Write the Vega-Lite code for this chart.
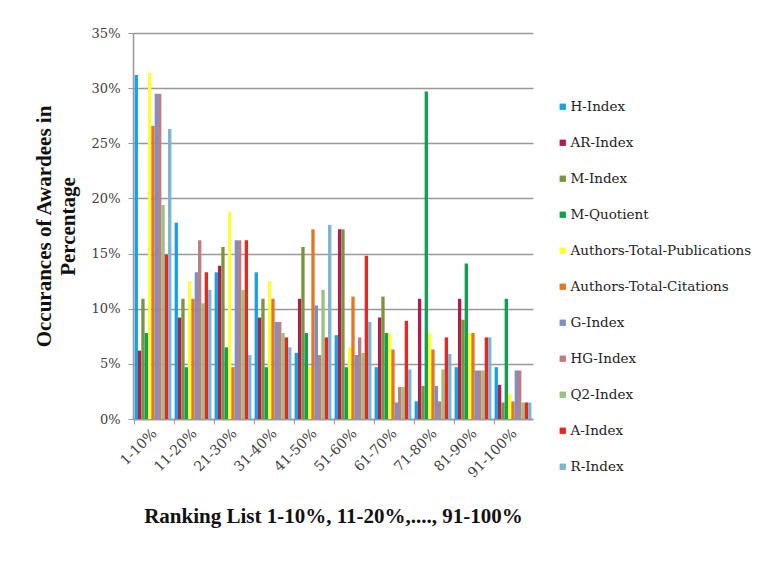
{
  "$schema": "https://vega.github.io/schema/vega-lite/v6.json",
  "width": 400,
  "height": 386,
  "autosize": {"type": "none"},
  "padding": {"left": 133, "top": 33, "right": 228, "bottom": 147},
  "background": "white",
  "datasets": {
    "d": [
      {"range": "1-10%", "index": "H-Index", "value": 31.2},
      {"range": "1-10%", "index": "AR-Index", "value": 6.2},
      {"range": "1-10%", "index": "M-Index", "value": 10.9},
      {"range": "1-10%", "index": "M-Quotient", "value": 7.8},
      {"range": "1-10%", "index": "Authors-Total-Publications", "value": 31.4},
      {"range": "1-10%", "index": "Authors-Total-Citations", "value": 26.6},
      {"range": "1-10%", "index": "G-Index", "value": 29.5},
      {"range": "1-10%", "index": "HG-Index", "value": 29.5},
      {"range": "1-10%", "index": "Q2-Index", "value": 19.4},
      {"range": "1-10%", "index": "A-Index", "value": 14.9},
      {"range": "1-10%", "index": "R-Index", "value": 26.3},

      {"range": "11-20%", "index": "H-Index", "value": 17.8},
      {"range": "11-20%", "index": "AR-Index", "value": 9.2},
      {"range": "11-20%", "index": "M-Index", "value": 10.9},
      {"range": "11-20%", "index": "M-Quotient", "value": 4.7},
      {"range": "11-20%", "index": "Authors-Total-Publications", "value": 12.5},
      {"range": "11-20%", "index": "Authors-Total-Citations", "value": 10.9},
      {"range": "11-20%", "index": "G-Index", "value": 13.3},
      {"range": "11-20%", "index": "HG-Index", "value": 16.2},
      {"range": "11-20%", "index": "Q2-Index", "value": 10.5},
      {"range": "11-20%", "index": "A-Index", "value": 13.3},
      {"range": "11-20%", "index": "R-Index", "value": 11.7},

      {"range": "21-30%", "index": "H-Index", "value": 13.3},
      {"range": "21-30%", "index": "AR-Index", "value": 13.9},
      {"range": "21-30%", "index": "M-Index", "value": 15.6},
      {"range": "21-30%", "index": "M-Quotient", "value": 6.5},
      {"range": "21-30%", "index": "Authors-Total-Publications", "value": 18.8},
      {"range": "21-30%", "index": "Authors-Total-Citations", "value": 4.7},
      {"range": "21-30%", "index": "G-Index", "value": 16.2},
      {"range": "21-30%", "index": "HG-Index", "value": 16.2},
      {"range": "21-30%", "index": "Q2-Index", "value": 11.7},
      {"range": "21-30%", "index": "A-Index", "value": 16.2},
      {"range": "21-30%", "index": "R-Index", "value": 5.8},

      {"range": "31-40%", "index": "H-Index", "value": 13.3},
      {"range": "31-40%", "index": "AR-Index", "value": 9.2},
      {"range": "31-40%", "index": "M-Index", "value": 10.9},
      {"range": "31-40%", "index": "M-Quotient", "value": 4.7},
      {"range": "31-40%", "index": "Authors-Total-Publications", "value": 12.5},
      {"range": "31-40%", "index": "Authors-Total-Citations", "value": 10.9},
      {"range": "31-40%", "index": "G-Index", "value": 8.8},
      {"range": "31-40%", "index": "HG-Index", "value": 8.8},
      {"range": "31-40%", "index": "Q2-Index", "value": 7.8},
      {"range": "31-40%", "index": "A-Index", "value": 7.4},
      {"range": "31-40%", "index": "R-Index", "value": 6.5},

      {"range": "41-50%", "index": "H-Index", "value": 6.0},
      {"range": "41-50%", "index": "AR-Index", "value": 10.9},
      {"range": "41-50%", "index": "M-Index", "value": 15.6},
      {"range": "41-50%", "index": "M-Quotient", "value": 7.8},
      {"range": "41-50%", "index": "Authors-Total-Publications", "value": 4.7},
      {"range": "41-50%", "index": "Authors-Total-Citations", "value": 17.2},
      {"range": "41-50%", "index": "G-Index", "value": 10.3},
      {"range": "41-50%", "index": "HG-Index", "value": 5.8},
      {"range": "41-50%", "index": "Q2-Index", "value": 11.7},
      {"range": "41-50%", "index": "A-Index", "value": 7.4},
      {"range": "41-50%", "index": "R-Index", "value": 17.6},

      {"range": "51-60%", "index": "H-Index", "value": 7.6},
      {"range": "51-60%", "index": "AR-Index", "value": 17.2},
      {"range": "51-60%", "index": "M-Index", "value": 17.2},
      {"range": "51-60%", "index": "M-Quotient", "value": 4.7},
      {"range": "51-60%", "index": "Authors-Total-Publications", "value": 6.5},
      {"range": "51-60%", "index": "Authors-Total-Citations", "value": 11.1},
      {"range": "51-60%", "index": "G-Index", "value": 5.8},
      {"range": "51-60%", "index": "HG-Index", "value": 7.4},
      {"range": "51-60%", "index": "Q2-Index", "value": 6.0},
      {"range": "51-60%", "index": "A-Index", "value": 14.8},
      {"range": "51-60%", "index": "R-Index", "value": 8.8},

      {"range": "61-70%", "index": "H-Index", "value": 4.7},
      {"range": "61-70%", "index": "AR-Index", "value": 9.2},
      {"range": "61-70%", "index": "M-Index", "value": 11.1},
      {"range": "61-70%", "index": "M-Quotient", "value": 7.8},
      {"range": "61-70%", "index": "Authors-Total-Publications", "value": 7.8},
      {"range": "61-70%", "index": "Authors-Total-Citations", "value": 6.3},
      {"range": "61-70%", "index": "G-Index", "value": 1.5},
      {"range": "61-70%", "index": "HG-Index", "value": 2.9},
      {"range": "61-70%", "index": "Q2-Index", "value": 2.9},
      {"range": "61-70%", "index": "A-Index", "value": 8.9},
      {"range": "61-70%", "index": "R-Index", "value": 4.5},

      {"range": "71-80%", "index": "H-Index", "value": 1.6},
      {"range": "71-80%", "index": "AR-Index", "value": 10.9},
      {"range": "71-80%", "index": "M-Index", "value": 3.0},
      {"range": "71-80%", "index": "M-Quotient", "value": 29.7},
      {"range": "71-80%", "index": "Authors-Total-Publications", "value": 7.8},
      {"range": "71-80%", "index": "Authors-Total-Citations", "value": 6.3},
      {"range": "71-80%", "index": "G-Index", "value": 3.0},
      {"range": "71-80%", "index": "HG-Index", "value": 1.6},
      {"range": "71-80%", "index": "Q2-Index", "value": 4.5},
      {"range": "71-80%", "index": "A-Index", "value": 7.4},
      {"range": "71-80%", "index": "R-Index", "value": 5.9},

      {"range": "81-90%", "index": "H-Index", "value": 4.7},
      {"range": "81-90%", "index": "AR-Index", "value": 10.9},
      {"range": "81-90%", "index": "M-Index", "value": 9.0},
      {"range": "81-90%", "index": "M-Quotient", "value": 14.1},
      {"range": "81-90%", "index": "Authors-Total-Publications", "value": 7.8},
      {"range": "81-90%", "index": "Authors-Total-Citations", "value": 7.8},
      {"range": "81-90%", "index": "G-Index", "value": 4.4},
      {"range": "81-90%", "index": "HG-Index", "value": 4.4},
      {"range": "81-90%", "index": "Q2-Index", "value": 4.4},
      {"range": "81-90%", "index": "A-Index", "value": 7.4},
      {"range": "81-90%", "index": "R-Index", "value": 7.4},

      {"range": "91-100%", "index": "H-Index", "value": 4.7},
      {"range": "91-100%", "index": "AR-Index", "value": 3.1},
      {"range": "91-100%", "index": "M-Index", "value": 1.5},
      {"range": "91-100%", "index": "M-Quotient", "value": 10.9},
      {"range": "91-100%", "index": "Authors-Total-Publications", "value": 2.3},
      {"range": "91-100%", "index": "Authors-Total-Citations", "value": 1.6},
      {"range": "91-100%", "index": "G-Index", "value": 4.4},
      {"range": "91-100%", "index": "HG-Index", "value": 4.4},
      {"range": "91-100%", "index": "Q2-Index", "value": 1.5},
      {"range": "91-100%", "index": "A-Index", "value": 1.5},
      {"range": "91-100%", "index": "R-Index", "value": 1.5}
    ]
  },
  "data": {"name": "d"},
  "mark": {"type": "bar"},
  "encoding": {
    "x": {
      "field": "range",
      "type": "nominal",
      "sort": null,
      "scale": {"paddingInner": 0.08, "paddingOuter": 0.04},
      "axis": {
        "title": "Ranking List 1-10%, 11-20%,...., 91-100%",
        "titleFont": "Liberation Serif",
        "titleFontSize": 21,
        "titleFontWeight": "bold",
        "titleColor": "#111111",
        "titleY": 86,
        "labelAngle": -45,
        "labelAlign": "right",
        "labelBaseline": "top",
        "labelFont": "DejaVu Serif",
        "labelFontSize": 14,
        "labelColor": "#404040",
        "labelPadding": 2,
        "bandPosition": 0,
        "labelOffset": -3,
        "domainColor": "#999999",
        "domainWidth": 1.5,
        "tickColor": "#999999",
        "tickSize": 5,
        "grid": false
      }
    },
    "xOffset": {
      "field": "index",
      "type": "nominal",
      "sort": ["H-Index", "AR-Index", "M-Index", "M-Quotient", "Authors-Total-Publications", "Authors-Total-Citations", "G-Index", "HG-Index", "Q2-Index", "A-Index", "R-Index"],
      "scale": {"paddingInner": 0, "paddingOuter": 0}
    },
    "y": {
      "field": "value",
      "type": "quantitative",
      "scale": {"domain": [0, 35], "nice": false},
      "axis": {
        "values": [0, 5, 10, 15, 20, 25, 30, 35],
        "labelExpr": "datum.value + '%'",
        "title": ["Occurances   of   Awardees   in", "Percentage"],
        "titleFont": "Liberation Serif",
        "titleFontSize": 21,
        "titleFontWeight": "bold",
        "titleColor": "#111111",
        "titleLineHeight": 24,
        "titlePadding": 13,
        "labelFont": "DejaVu Serif",
        "labelFontSize": 13,
        "labelColor": "#404040",
        "labelPadding": 8,
        "domainColor": "#999999",
        "domainWidth": 1.5,
        "tickColor": "#999999",
        "tickSize": 5,
        "grid": true,
        "gridColor": "#999999",
        "gridWidth": 1.5
      }
    },
    "color": {
      "field": "index",
      "type": "nominal",
      "scale": {
        "domain": ["H-Index", "AR-Index", "M-Index", "M-Quotient", "Authors-Total-Publications", "Authors-Total-Citations", "G-Index", "HG-Index", "Q2-Index", "A-Index", "R-Index"],
        "range": ["#1E9FE0", "#B01E50", "#7C9440", "#12A050", "#FFFF33", "#E07828", "#7F8FBF", "#C07B88", "#9CC080", "#E8281E", "#7FB4D0"]
      },
      "legend": {
        "title": null,
        "orient": "none",
        "legendX": 423,
        "legendY": 67,
        "symbolType": "square",
        "symbolSize": 40,
        "symbolStrokeWidth": 0,
        "labelFont": "DejaVu Serif",
        "labelFontSize": 13.5,
        "labelColor": "#222222",
        "labelOffset": 1,
        "labelLimit": 0,
        "rowPadding": 21
      }
    }
  },
  "config": {
    "view": {"stroke": null},
    "axis": {"labelLimit": 0},
    "legend": {"labelLimit": 0}
  }
}
